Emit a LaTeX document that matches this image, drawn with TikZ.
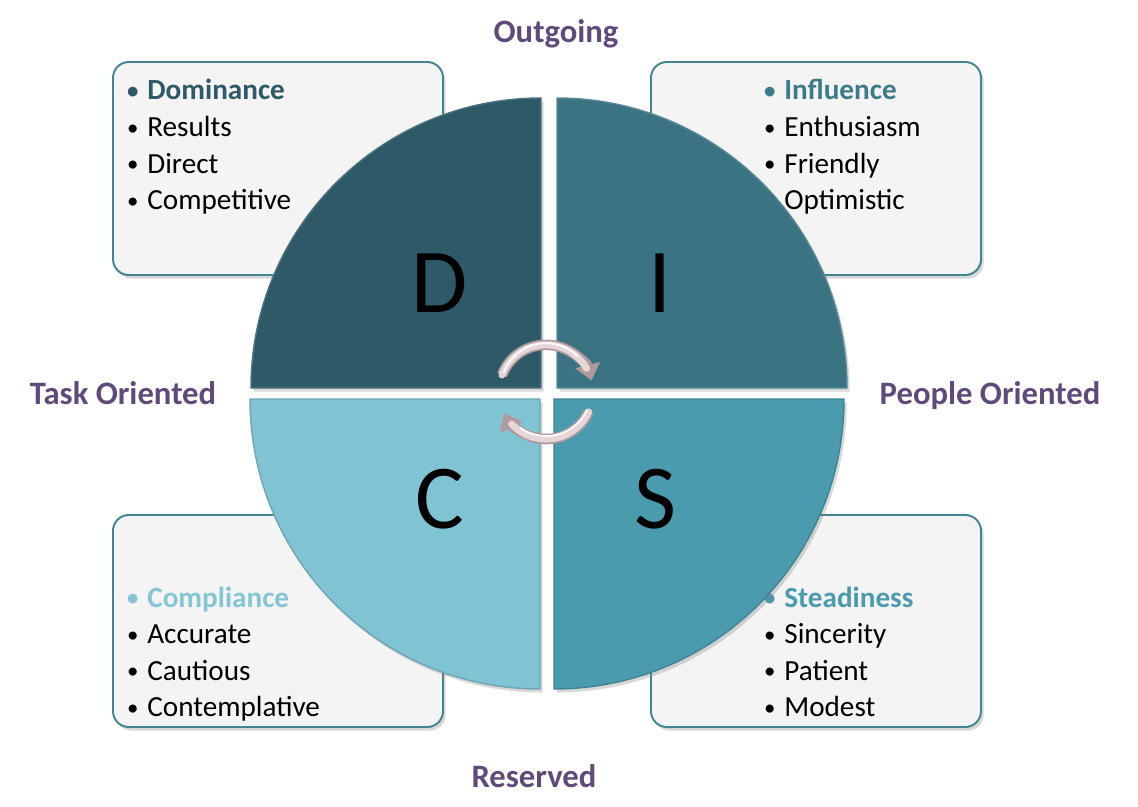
\documentclass[tikz,border=0pt]{standalone}
\usepackage{fontspec}
\setmainfont{Carlito}
\usetikzlibrary{arrows.meta,shadows}
\definecolor{dcol}{HTML}{2E5966}
\definecolor{icol}{HTML}{3A7482}
\definecolor{ccol}{HTML}{80C3D2}
\definecolor{scol}{HTML}{4A9BAD}
\definecolor{ihead}{HTML}{3D7B88}
\definecolor{chead}{HTML}{86C5D3}
\definecolor{labc}{HTML}{5F4B7A}
\definecolor{boxline}{HTML}{42848F}
\definecolor{boxfill}{HTML}{F4F4F4}
\definecolor{cycc}{HTML}{E6D6D8}
\definecolor{cycedge}{HTML}{B09A9E}
\newcommand\bul{\llap{\raisebox{0.6pt}{\fontsize{13}{13}\selectfont\textbullet}\hspace{5pt}}}
\begin{document}
\begin{tikzpicture}[x=0.02cm,y=0.02cm,
  box/.style={draw=boxline,fill=boxfill,line width=1.1pt,rounded corners=9pt,
    drop shadow={shadow xshift=1.5pt,shadow yshift=-2pt,opacity=0.3}},
  quad/.style={line width=0.8pt,
    drop shadow={shadow xshift=1.5pt,shadow yshift=-2pt,opacity=0.3}},
  head/.style={font=\fontsize{16.6}{19}\selectfont\bfseries,anchor=base west,inner sep=0pt},
  item/.style={font=\fontsize{16.6}{19}\selectfont,anchor=base west,inner sep=0pt},
  big/.style={font=\fontsize{52}{52}\selectfont,anchor=base,inner sep=0pt},
  axis/.style={font=\fontsize{18.6}{21}\selectfont\bfseries,text=labc,anchor=base,inner sep=0pt},
  cyc/.style={line width=6pt,draw=cycedge,-{Triangle[length=9pt,width=14pt]}},
  cycin/.style={line width=4pt,draw=cycc,line cap=round},
  cychl/.style={line width=1pt,draw=white,line cap=round}]
\fill[white] (0,0) rectangle (1138,806);
\useasboundingbox (0,0) rectangle (1138,806);
% boxes
\draw[box] (113,531) rectangle (443,744);
\draw[box] (651,531) rectangle (981,744);
\draw[box] (113,79) rectangle (443,291);
\draw[box] (651,79) rectangle (981,291);
\node[head,text=dcol] (dhead) at (147,706) {\bul Dominance};
\foreach \t [count=\i] in {Results,Direct,Competitive}
  \node[item] (d\i) at (147,706-36.5*\i) {\bul\t};
\node[head,text=ihead] (ihead) at (784,706) {\bul Influence};
\foreach \t [count=\i] in {Enthusiasm,Friendly,Optimistic}
  \node[item] (i\i) at (784,706-36.5*\i) {\bul\t};
\node[head,text=chead] (chead) at (147,199) {\bul Compliance};
\foreach \t [count=\i] in {Accurate,Cautious,Contemplative}
  \node[item] (c\i) at (147,199-36.5*\i) {\bul\t};
\node[head,text=scol] (shead) at (784,199) {\bul Steadiness};
\foreach \t [count=\i] in {Sincerity,Patient,Modest}
  \node[item] (s\i) at (784,199-36.5*\i) {\bul\t};
% quadrants
\draw[quad,fill=dcol,draw=dcol!85!white] (541,418) -- (251,418) arc (180:90:290) -- cycle;
\draw[quad,fill=icol,draw=icol!85!white] (557,418) -- (557,708) arc (90:0:290) -- cycle;
\draw[quad,fill=ccol,draw=ccol!85!black] (540,407) -- (250,407) arc (180:270:290) -- cycle;
\draw[quad,fill=scol,draw=scol!85!black] (554,407) -- (844,407) arc (0:-90:290) -- cycle;
\node[big] (dl) at (440,494) {D};
\node[big] (il) at (660,494) {I};
\node[big] (cl) at (440,278) {C};
\node[big] (sl) at (655,278) {S};
% cycle arrows
\draw[cyc] (502,431) arc (159:14:47);
\draw[cycin] (502,431) arc (159:30:47);
\draw[cychl] (504,434) arc (159:45:45);
\draw[cyc] (588.6,394.1) arc (-25:-153:47);
\draw[cycin] (588.6,394.1) arc (-25:-137:47);
\draw[cychl] (587,396) arc (-25:-125:45);
% axis labels
\node[axis] (out) at (556,763) {Outgoing};
\node[axis] (res) at (534,19) {Reserved};
\node[axis] (task) at (123,402) {Task Oriented};
\node[axis] (peop) at (990,402) {People Oriented};
\end{tikzpicture}
\end{document}
